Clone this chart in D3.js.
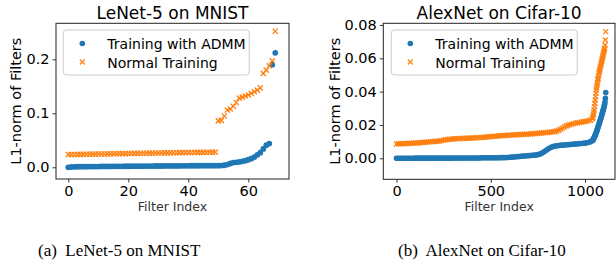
<!DOCTYPE html>
<html>
<head>
<meta charset="utf-8">
<script src="https://cdnjs.cloudflare.com/ajax/libs/d3/7.8.5/d3.min.js"></script>
<style>
  body { margin: 0; background: #fff; }
  svg { display: block; font-family: "DejaVu Sans", sans-serif; }
</style>
</head>
<body>
<svg id="chart" width="616" height="265"></svg>
<script>
// LeNet-5 on MNIST, 70 filters
var lenetIdx = d3.range(70);
var lenetAdmm = [
  0.0000, 0.0005, 0.0008, 0.0010, 0.0011, 0.0012, 0.0012, 0.0013, 0.0013, 0.0014,
  0.0014, 0.0015, 0.0015, 0.0016, 0.0016, 0.0017, 0.0017, 0.0018, 0.0018, 0.0019,
  0.0019, 0.0020, 0.0020, 0.0021, 0.0021, 0.0022, 0.0022, 0.0023, 0.0023, 0.0024,
  0.0024, 0.0024, 0.0025, 0.0025, 0.0025, 0.0026, 0.0026, 0.0026, 0.0027, 0.0027,
  0.0027, 0.0028, 0.0028, 0.0028, 0.0029, 0.0029, 0.0029, 0.0030, 0.0030, 0.0030,
  0.0030, 0.0032, 0.0038, 0.0050, 0.0070, 0.0088, 0.0092, 0.0100, 0.0110, 0.0122,
  0.0140, 0.0160, 0.0190, 0.0230, 0.0270, 0.0340, 0.0410, 0.0440, 0.1900, 0.2120
];
var lenetNormal = [
  0.0235, 0.0236, 0.0237, 0.0238, 0.0239, 0.0240, 0.0241, 0.0242, 0.0243, 0.0244,
  0.0245, 0.0246, 0.0247, 0.0248, 0.0249, 0.0250, 0.0251, 0.0252, 0.0253, 0.0254,
  0.0255, 0.0256, 0.0257, 0.0258, 0.0259, 0.0260, 0.0261, 0.0262, 0.0263, 0.0264,
  0.0265, 0.0265, 0.0266, 0.0267, 0.0268, 0.0269, 0.0270, 0.0271, 0.0272, 0.0273,
  0.0273, 0.0274, 0.0275, 0.0276, 0.0277, 0.0277, 0.0278, 0.0279, 0.0280, 0.0281,
  0.0860, 0.0870, 0.0950, 0.1060, 0.1080, 0.1130, 0.1200, 0.1280, 0.1300, 0.1320,
  0.1340, 0.1370, 0.1400, 0.1430, 0.1470, 0.1740, 0.1800, 0.1880, 0.1970, 0.2520
];

// AlexNet on Cifar-10, sampled filter indices
var alexIdx = d3.range(0, 1041, 10).concat(d3.range(1042, 1111, 2));
var alexAdmm = [
  // 0 .. 1040 step 10
  0.0000, 0.0000, 0.0000, 0.0000, 0.0000, 0.0000, 0.0000, 0.0000, 0.0000, 0.0000,
  0.0001, 0.0001, 0.0001, 0.0001, 0.0001, 0.0001, 0.0001, 0.0001, 0.0001, 0.0001,
  0.0001, 0.0001, 0.0001, 0.0001, 0.0001, 0.0001, 0.0001, 0.0001, 0.0001, 0.0001,
  0.0002, 0.0002, 0.0002, 0.0002, 0.0002, 0.0002, 0.0002, 0.0002, 0.0002, 0.0002,
  0.0002, 0.0002, 0.0002, 0.0002, 0.0002, 0.0003, 0.0003, 0.0003, 0.0003, 0.0003,
  0.0003, 0.0003, 0.0003, 0.0003, 0.0003, 0.0004, 0.0004, 0.0004, 0.0005, 0.0005,
  0.0006, 0.0007, 0.0008, 0.0009, 0.0010, 0.0011, 0.0012, 0.0013, 0.0014, 0.0015,
  0.0016, 0.0017, 0.0018, 0.0019, 0.0020, 0.0022, 0.0025, 0.0030, 0.0037, 0.0045,
  0.0053, 0.0060, 0.0066, 0.0070, 0.0073, 0.0075, 0.0077, 0.0078, 0.0079, 0.0080,
  0.0081, 0.0082, 0.0083, 0.0084, 0.0085, 0.0086, 0.0087, 0.0088, 0.0089, 0.0090,
  0.0091, 0.0093, 0.0096, 0.0100, 0.0106,
  // 1042 .. 1110 step 2
  0.0110, 0.0114, 0.0118, 0.0123, 0.0128, 0.0133, 0.0138, 0.0144, 0.0150, 0.0156,
  0.0163, 0.0170, 0.0177, 0.0184, 0.0191, 0.0198, 0.0205, 0.0212, 0.0219, 0.0226,
  0.0233, 0.0240, 0.0248, 0.0256, 0.0264, 0.0272, 0.0280, 0.0288, 0.0296, 0.0305,
  0.0315, 0.0325, 0.0338, 0.0360, 0.0395
];
var alexNormal = [
  // 0 .. 1040 step 10
  0.0086, 0.0087, 0.0087, 0.0088, 0.0088, 0.0089, 0.0089, 0.0090, 0.0090, 0.0091,
  0.0092, 0.0092, 0.0093, 0.0094, 0.0095, 0.0096, 0.0097, 0.0098, 0.0099, 0.0100,
  0.0101, 0.0102, 0.0103, 0.0104, 0.0106, 0.0109, 0.0111, 0.0113, 0.0114, 0.0115,
  0.0116, 0.0117, 0.0118, 0.0118, 0.0119, 0.0119, 0.0120, 0.0120, 0.0121, 0.0121,
  0.0122, 0.0122, 0.0123, 0.0124, 0.0124, 0.0125, 0.0126, 0.0127, 0.0128, 0.0129,
  0.0130, 0.0131, 0.0132, 0.0133, 0.0134, 0.0135, 0.0136, 0.0137, 0.0137, 0.0138,
  0.0139, 0.0139, 0.0140, 0.0141, 0.0141, 0.0142, 0.0143, 0.0143, 0.0144, 0.0144,
  0.0145, 0.0146, 0.0147, 0.0148, 0.0149, 0.0150, 0.0151, 0.0152, 0.0153, 0.0154,
  0.0155, 0.0156, 0.0157, 0.0159, 0.0161, 0.0164, 0.0168, 0.0174, 0.0181, 0.0188,
  0.0194, 0.0198, 0.0202, 0.0205, 0.0208, 0.0211, 0.0213, 0.0215, 0.0217, 0.0219,
  0.0221, 0.0223, 0.0226, 0.0230, 0.0237,
  // 1042 .. 1110 step 2
  0.0245, 0.0260, 0.0275, 0.0290, 0.0310, 0.0330, 0.0350, 0.0370, 0.0390, 0.0410,
  0.0425, 0.0440, 0.0455, 0.0470, 0.0480, 0.0495, 0.0510, 0.0520, 0.0530, 0.0540,
  0.0550, 0.0560, 0.0570, 0.0580, 0.0590, 0.0600, 0.0610, 0.0620, 0.0630, 0.0640,
  0.0650, 0.0660, 0.0680, 0.0710, 0.0760
];

var seriesNames = ["Training with ADMM", "Normal Training"];
var blue = "#1f77b4";
var orange = "#ff7f0e";

var svg = d3.select("#chart");

function drawPanel(p) {
  var x = d3.scaleLinear().domain(p.xDomain).range([p.left, p.right]);
  var y = d3.scaleLinear().domain(p.yDomain).range([p.bottom, p.top]);

  var g = svg.append("g");

  // blue dots
  g.selectAll(".dot")
    .data(p.idx.map(function(d, i) { return [d, p.admm[i]]; }))
    .enter().append("circle")
    .attr("cx", function(d) { return x(d[0]); })
    .attr("cy", function(d) { return y(d[1]); })
    .attr("r", p.r)
    .attr("fill", blue);

  // orange crosses
  var s = p.xs;
  g.selectAll(".cross")
    .data(p.idx.map(function(d, i) { return [d, p.normal[i]]; }))
    .enter().append("path")
    .attr("d", function(d) {
      var cx = x(d[0]), cy = y(d[1]);
      return "M" + (cx - s) + "," + (cy - s) + "L" + (cx + s) + "," + (cy + s) +
             "M" + (cx - s) + "," + (cy + s) + "L" + (cx + s) + "," + (cy - s);
    })
    .attr("stroke", orange)
    .attr("stroke-width", 1.3)
    .attr("fill", "none");

  // axes
  var xAxis = d3.axisBottom(x).tickValues(p.xTicks).tickSize(3.5).tickPadding(3)
    .tickFormat(d3.format("d"));
  g.append("g")
    .attr("transform", "translate(0," + p.bottom + ")")
    .call(xAxis)
    .call(function(a) { a.select(".domain").remove(); });

  var yAxis = d3.axisLeft(y).tickValues(p.yTicks).tickSize(3.5).tickPadding(3)
    .tickFormat(d3.format(p.yFmt));
  g.append("g")
    .attr("transform", "translate(" + p.left + ",0)")
    .call(yAxis)
    .call(function(a) { a.select(".domain").remove(); });

  g.selectAll(".tick text").attr("font-size", 14.5).attr("fill", "#000")
    .attr("font-family", "DejaVu Sans");
  g.selectAll(".tick line").attr("stroke", "#222").attr("stroke-width", 0.9);

  // frame
  g.append("rect")
    .attr("x", p.left).attr("y", p.top)
    .attr("width", p.right - p.left).attr("height", p.bottom - p.top)
    .attr("fill", "none").attr("stroke", "#222").attr("stroke-width", 1);

  // title
  g.append("text")
    .attr("x", (p.left + p.right) / 2).attr("y", 19)
    .attr("text-anchor", "middle").attr("font-size", 17)
    .text(p.title);

  // axis labels
  g.append("text")
    .attr("transform", "translate(" + p.yLabelX + "," + ((p.top + p.bottom) / 2) + ") rotate(-90)")
    .attr("text-anchor", "middle").attr("font-size", 14.5)
    .text("L1-norm of Filters");
  g.append("text")
    .attr("x", (p.left + p.right) / 2).attr("y", 211)
    .attr("text-anchor", "middle").attr("font-size", 12.5).attr("fill", "#333")
    .text("Filter Index");

  // legend
  var lg = g.append("g");
  lg.append("rect")
    .attr("x", p.legX).attr("y", 30).attr("width", 186).attr("height", 45)
    .attr("rx", 3).attr("fill", "#fff").attr("fill-opacity", 0.8)
    .attr("stroke", "#ccc").attr("stroke-width", 1);
  lg.append("circle")
    .attr("cx", p.legX + 19).attr("cy", 43.5).attr("r", 2.8).attr("fill", blue);
  var mx = p.legX + 19, my = 62;
  lg.append("path")
    .attr("d", "M" + (mx - 2.5) + "," + (my - 2.5) + "L" + (mx + 2.5) + "," + (my + 2.5) +
               "M" + (mx - 2.5) + "," + (my + 2.5) + "L" + (mx + 2.5) + "," + (my - 2.5))
    .attr("stroke", orange).attr("stroke-width", 1.2);
  lg.selectAll(".lt")
    .data(seriesNames)
    .enter().append("text")
    .attr("x", p.legX + 44)
    .attr("y", function(d, i) { return 48.5 + i * 19; })
    .attr("font-size", 14)
    .text(function(d) { return d; });

  // caption
  svg.append("text")
    .attr("x", p.capX).attr("y", 256)
    .attr("font-family", "Liberation Serif, serif")
    .attr("font-size", 17)
    .style("white-space", "pre")
    .text(p.caption);
}

drawPanel({
  idx: lenetIdx, admm: lenetAdmm, normal: lenetNormal,
  left: 56, right: 289, top: 23.3, bottom: 179,
  xDomain: [-4.1, 73.57], yDomain: [-0.0217, 0.2667],
  xTicks: [0, 20, 40, 60], yTicks: [0, 0.1, 0.2], yFmt: ".1f",
  r: 2.9, xs: 2.6,
  title: "LeNet-5 on MNIST", yLabelX: 21, legX: 63.3,
  caption: "(a)  LeNet-5 on MNIST", capX: 38
});

drawPanel({
  idx: alexIdx, admm: alexAdmm, normal: alexNormal,
  left: 383.3, right: 615, top: 23.3, bottom: 179.3,
  xDomain: [-70, 1159], yDomain: [-0.0126, 0.081],
  xTicks: [0, 500, 1000], yTicks: [0, 0.02, 0.04, 0.06, 0.08], yFmt: ".2f",
  r: 2.8, xs: 2.5,
  title: "AlexNet on Cifar-10", yLabelX: 340, legX: 391.3,
  caption: "(b)  AlexNet on Cifar-10", capX: 398
});
</script>
</body>
</html>
